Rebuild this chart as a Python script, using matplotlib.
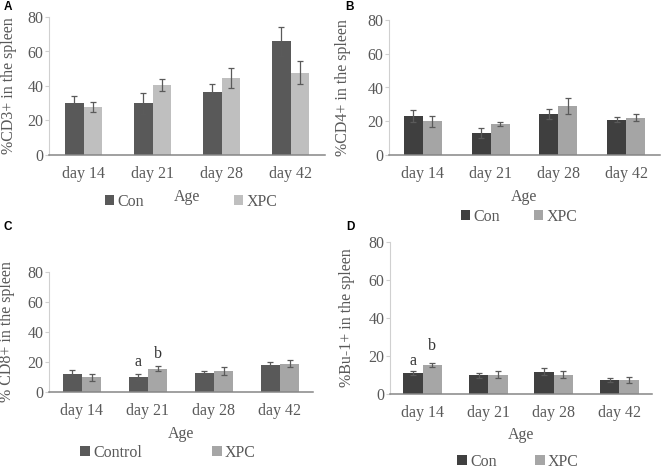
import matplotlib
matplotlib.use('Agg')
import matplotlib.pyplot as plt
from matplotlib.patches import Patch
import numpy as np

days = ['day 14', 'day 21', 'day 28', 'day 42']

# A: CD3+
cd3_con = [30.3, 30.0, 36.8, 65.8]
cd3_con_err = [3.8, 6.0, 4.4, 8.4]
cd3_xpc = [27.9, 40.6, 44.7, 47.8]
cd3_xpc_err = [2.9, 3.5, 5.8, 6.9]

# B: CD4+
cd4_con = [23.2, 13.2, 24.3, 20.9]
cd4_con_err = [3.4, 3.0, 2.9, 1.4]
cd4_xpc = [19.9, 18.5, 29.0, 22.1]
cd4_xpc_err = [3.2, 1.2, 4.5, 2.0]

# C: CD8+
cd8_con = [12.0, 9.8, 12.4, 18.2]
cd8_con_err = [2.9, 2.0, 1.9, 1.6]
cd8_xpc = [9.8, 15.6, 14.1, 18.9]
cd8_xpc_err = [2.2, 1.5, 2.6, 2.4]

# D: Bu-1+
bu1_con = [11.0, 9.8, 11.8, 7.4]
bu1_con_err = [0.9, 1.5, 1.9, 1.2]
bu1_xpc = [15.4, 10.2, 10.2, 7.4]
bu1_xpc_err = [1.1, 1.7, 1.7, 1.8]

plt.rcParams['font.family'] = ['Liberation Serif', 'DejaVu Serif']
txt = '#595959'

fig = plt.figure(figsize=(6.61, 4.71), dpi=100)


def panel(rect, con, con_err, xpc, xpc_err, c1, c2, ylabel, ylab_x,
          width, leg_labels, leg_xy, colsp, age_y, letters=None):
    ax = fig.add_axes(rect)
    x = np.arange(len(days))
    ax.bar(x - width / 2, con, width, color=c1, yerr=con_err,
           error_kw=dict(ecolor='#5a5a5a', elinewidth=0.9, capsize=2.2, capthick=0.9))
    ax.bar(x + width / 2, xpc, width, color=c2, yerr=xpc_err,
           error_kw=dict(ecolor='#5a5a5a', elinewidth=0.9, capsize=2.2, capthick=0.9))
    ax.set_xlim(-0.5, 3.5)
    ax.set_ylim(0, 80)
    ax.set_yticks([0, 20, 40, 60, 80])
    ax.set_xticks(x)
    ax.set_xticklabels(days)
    for s in ['top', 'right']:
        ax.spines[s].set_visible(False)
    ax.spines['left'].set_color('#d0d0d0')
    ax.spines['bottom'].set_color('#868686')
    ax.spines['bottom'].set_linewidth(1.1)
    ax.tick_params(axis='x', length=0, pad=8, labelsize=11.5, labelcolor=txt)
    ax.tick_params(axis='y', length=3, width=0.8, color='#d0d0d0', pad=1,
                   labelsize=11.5, labelcolor=txt)
    ax.set_ylabel(ylabel, fontsize=11.5, color=txt, va='center')
    ax.yaxis.set_label_coords(ylab_x, 0.5)
    ax.set_xlabel('Age', fontsize=11.5, color=txt, va='center')
    ax.xaxis.set_label_coords(0.5, age_y)
    if letters:
        for xi, yi, t in letters:
            ax.text(xi, yi, t, ha='center', va='center', fontsize=11.5, color='#333333')
    handles = [Patch(facecolor=c1), Patch(facecolor=c2)]
    fig.legend(handles, leg_labels, loc='center', bbox_to_anchor=leg_xy, ncol=2,
               frameon=False, fontsize=11.5, labelcolor=txt, handlelength=0.6,
               handleheight=0.6, handletextpad=0.2, columnspacing=colsp,
               borderpad=0, borderaxespad=0)
    return ax


W, H = 661.0, 471.0


def rect(l, r, t, b):
    return [l / W, 1 - b / H, (r - l) / W, (b - t) / H]


panel(rect(49, 325, 17, 155), cd3_con, cd3_con_err, cd3_xpc, cd3_xpc_err,
      '#595959', '#bfbfbf', '%CD3+ in the spleen', -0.145, 0.275,
      ['Con', 'XPC'], (191 / W, 1 - 202 / H), 5.6, -0.304)

panel(rect(389, 660, 20, 155), cd4_con, cd4_con_err, cd4_xpc, cd4_xpc_err,
      '#3f3f3f', '#a5a5a5', '%CD4+ in the spleen', -0.17, 0.28,
      ['Con', 'XPC'], (519 / W, 1 - 217 / H), 2.1, -0.311)

panel(rect(49, 313, 272, 392), cd8_con, cd8_con_err, cd8_xpc, cd8_xpc_err,
      '#595959', '#a6a6a6', '% CD8+ in the spleen', -0.159, 0.29,
      ['Control', 'XPC'], (168 / W, 1 - 453 / H), 4.4, -0.35,
      letters=[(1 - 0.145, 20.0, 'a'), (1 + 0.145, 25.3, 'b')])

panel(rect(390, 652, 242, 394), bu1_con, bu1_con_err, bu1_xpc, bu1_xpc_err,
      '#404040', '#a6a6a6', '%Bu-1+ in the spleen', -0.164, 0.295,
      ['Con', 'XPC'], (518 / W, 1 - 462 / H), 2.4, -0.27,
      letters=[(-0.1475, 17.4, 'a'), (0.1475, 25.2, 'b')])

for lx, ly, t in [(8, 7, 'A'), (350, 7, 'B'), (8, 227, 'C'), (350, 227, 'D')]:
    fig.text(lx / W, 1 - ly / H, t, ha='center', va='center', fontsize=8.5,
             fontweight='bold', family=['Liberation Sans', 'DejaVu Sans'])

fig.savefig('out.png', dpi=100)
